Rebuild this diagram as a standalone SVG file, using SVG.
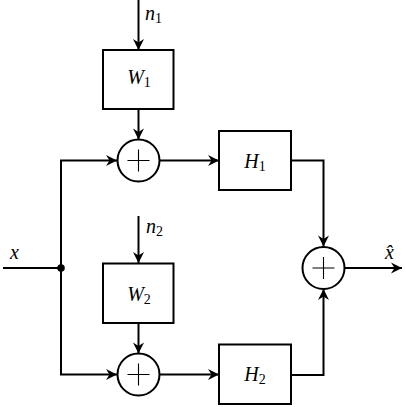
<svg xmlns="http://www.w3.org/2000/svg" width="406" height="407" viewBox="0 0 406 407">
<style>
.box{fill:#fff;stroke:#000;stroke-width:2}
.sum{fill:#fff;stroke:#000;stroke-width:2}
.plus{stroke:#000;stroke-width:1.1;fill:none}
.wire{fill:none;stroke:#000;stroke-width:2}
.arr{marker-end:url(#ah)}
text{font-family:"Liberation Serif","Times New Roman",serif;font-size:20px;fill:#000}
.it{font-style:italic}
.sub{font-size:14px}
</style>
<defs>
<marker id="ah" markerUnits="userSpaceOnUse" markerWidth="14" markerHeight="14" viewBox="-12 -7 14 14" refX="0" refY="0" orient="auto">
<path d="M0,0 L-11,-5.5 L-7.5,0 L-11,5.5 Z" fill="#000"/>
</marker>
</defs>
<g id="connectors">
<path class="wire" d="M3,268 H61"/>
<path class="wire arr" d="M61,268 V160.5 H117"/>
<path class="wire arr" d="M61,268 V374.5 H117"/>
<path class="wire arr" d="M138.5,0 V50"/>
<path class="wire arr" d="M138.5,109 V139.5"/>
<path class="wire arr" d="M138.5,216 V263"/>
<path class="wire arr" d="M138.5,323 V353.5"/>
<path class="wire arr" d="M159.5,160.5 H219"/>
<path class="wire arr" d="M159.5,374.5 H219"/>
<path class="wire arr" d="M291,160.5 H323.5 V246.5"/>
<path class="wire arr" d="M291,375 H323.5 V289"/>
<path class="wire arr" d="M344.5,268 H402"/>
<circle cx="61" cy="268" r="3.8" fill="#000"/>
</g>
<g id="W1">
<rect class="box" x="103" y="50" width="70.5" height="59"/>
<text x="139" y="84" text-anchor="middle"><tspan class="it">W</tspan><tspan class="sub" dy="3">1</tspan></text>
</g>
<g id="W2">
<rect class="box" x="103" y="263.5" width="70.5" height="59.5"/>
<text x="139" y="301" text-anchor="middle"><tspan class="it">W</tspan><tspan class="sub" dy="3">2</tspan></text>
</g>
<g id="sum1">
<circle class="sum" cx="138.5" cy="160.5" r="21"/>
<path class="plus" d="M127.5,160.5 H149.5 M138.5,149.5 V171.5"/>
</g>
<g id="sum2">
<circle class="sum" cx="138.5" cy="374.5" r="21"/>
<path class="plus" d="M127.5,374.5 H149.5 M138.5,363.5 V385.5"/>
</g>
<g id="H1">
<rect class="box" x="219" y="131" width="72" height="59"/>
<text x="255" y="168" text-anchor="middle"><tspan class="it">H</tspan><tspan class="sub" dy="3">1</tspan></text>
</g>
<g id="H2">
<rect class="box" x="219" y="344.5" width="72" height="59.5"/>
<text x="255" y="381" text-anchor="middle"><tspan class="it">H</tspan><tspan class="sub" dy="3">2</tspan></text>
</g>
<g id="sum3">
<circle class="sum" cx="323.5" cy="268" r="21"/>
<path class="plus" d="M312.5,268 H334.5 M323.5,257 V279"/>
</g>
<g id="labels">
<text x="145" y="20"><tspan class="it">n</tspan><tspan class="sub" dy="3">1</tspan></text>
<text x="146" y="233"><tspan class="it">n</tspan><tspan class="sub" dy="3">2</tspan></text>
<text x="10" y="259" class="it">x</text>
<text x="385" y="259" class="it">x̂</text>
</g>
</svg>
